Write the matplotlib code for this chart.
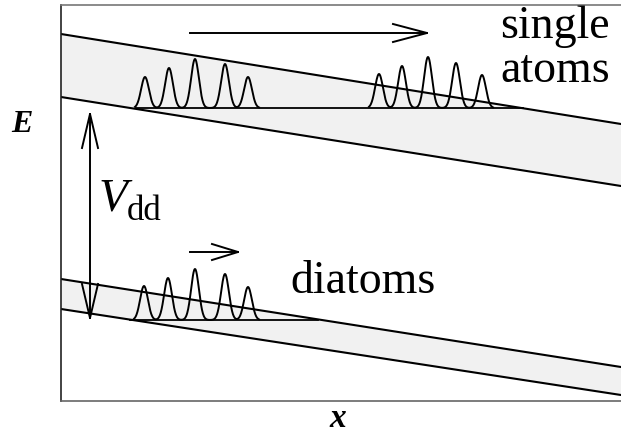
"""Schematic: single atoms and diatoms moving down a tilted potential"""

import numpy as np
import matplotlib.pyplot as plt

plt.rcParams["font.family"] = ["Liberation Serif", "DejaVu Serif"]

# everything below is in picture pixels (x right, y down)
band_x = [61, 621]
upper_top = [34, 124]
upper_bottom = [97, 186]
lower_top = [279, 367]
lower_bottom = [309, 395]

# wave packets: peak positions and heights above the baseline
single_peaks_1 = [145, 169, 195, 225, 248]
single_heights_1 = [31, 40, 49, 44, 31]
single_peaks_2 = [379, 402, 428, 456, 482]
single_heights_2 = [34, 42, 51, 45, 33]
single_base = 108
single_base_span = [136, 523]

diatom_peaks = [144, 168, 195, 225, 248]
diatom_heights = [34, 42, 51, 46, 33]
diatom_base = 320
diatom_base_span = [130, 318]

# arrows: (x0, y0, x1, y1)
single_arrow = [190, 33, 427, 33]
diatom_arrow = [190, 252, 238, 252]
vdd_arrow = [90, 318, 90, 114]


def packet(ax, peaks, heights, base, sigma=3.9):
    xs = np.linspace(peaks[0] - 10, peaks[-1] + 11, 400)
    ys = np.full_like(xs, float(base))
    for p, h in zip(peaks, heights):
        ys -= h * np.exp(-((xs - p) ** 2) / (2 * sigma ** 2))
    ax.plot(xs, ys, color="black", lw=1.4)


def open_head(ax, x_tip, y_tip, dx, dy, length, half):
    # dx, dy: unit direction of travel
    bx, by = x_tip - dx * length, y_tip - dy * length
    nx, ny = -dy, dx
    ax.plot([bx + nx * half, x_tip, bx - nx * half],
            [by + ny * half, y_tip, by - ny * half], color="black", lw=1.4)


def arrow(ax, seg, length, half, both=False):
    x0, y0, x1, y1 = seg
    d = np.hypot(x1 - x0, y1 - y0)
    ux, uy = (x1 - x0) / d, (y1 - y0) / d
    ax.plot([x0, x1], [y0, y1], color="black", lw=1.4)
    open_head(ax, x1, y1, ux, uy, length, half)
    if both:
        open_head(ax, x0, y0, -ux, -uy, length, half)


fig = plt.figure(figsize=(6.21, 4.33), dpi=100)
ax = fig.add_axes([61 / 621, (433 - 401) / 433, 560 / 621, 396 / 433])
ax.set_xlim(61, 621)
ax.set_ylim(401, 5)
ax.set_xticks([])
ax.set_yticks([])
ax.spines["right"].set_visible(False)
ax.spines["left"].set_color("#222222")
ax.spines["top"].set_color("#777777")
ax.spines["bottom"].set_color("#666666")
for s in ax.spines.values():
    s.set_linewidth(1.2)

# bands
ax.fill_between(band_x, upper_top, upper_bottom, color="#f1f1f1", lw=0)
ax.fill_between(band_x, lower_top, lower_bottom, color="#f1f1f1", lw=0)
for edge in (upper_top, upper_bottom, lower_top, lower_bottom):
    ax.plot(band_x, edge, color="black", lw=1.5)

# baselines and packets
ax.plot(single_base_span, [single_base] * 2, color="black", lw=1.3)
ax.plot(diatom_base_span, [diatom_base] * 2, color="black", lw=1.3)
packet(ax, single_peaks_1, single_heights_1, single_base)
packet(ax, single_peaks_2, single_heights_2, single_base)
packet(ax, diatom_peaks, diatom_heights, diatom_base)

arrow(ax, single_arrow, 34, 9)
arrow(ax, diatom_arrow, 26, 8)
arrow(ax, vdd_arrow, 34, 8, both=True)

# labels
txt = dict(color="black", va="baseline", ha="left", clip_on=False)
ax.text(500, 38, "single", fontsize=33, **txt)
ax.text(500, 82, "atoms", fontsize=33, **txt)
ax.text(290, 293, "diatoms", fontsize=33, **txt)
ax.text(99, 211, "V", fontsize=34, style="italic", **txt)
ax.text(127, 220, "dd", fontsize=25, **txt)
ax.text(11, 132, "E", fontsize=23, style="italic", weight="bold", **txt)
ax.text(338, 427, "x", fontsize=24, style="italic", weight="bold",
        color="black", va="baseline", ha="center", clip_on=False)

fig.savefig("out.png", dpi=100)
